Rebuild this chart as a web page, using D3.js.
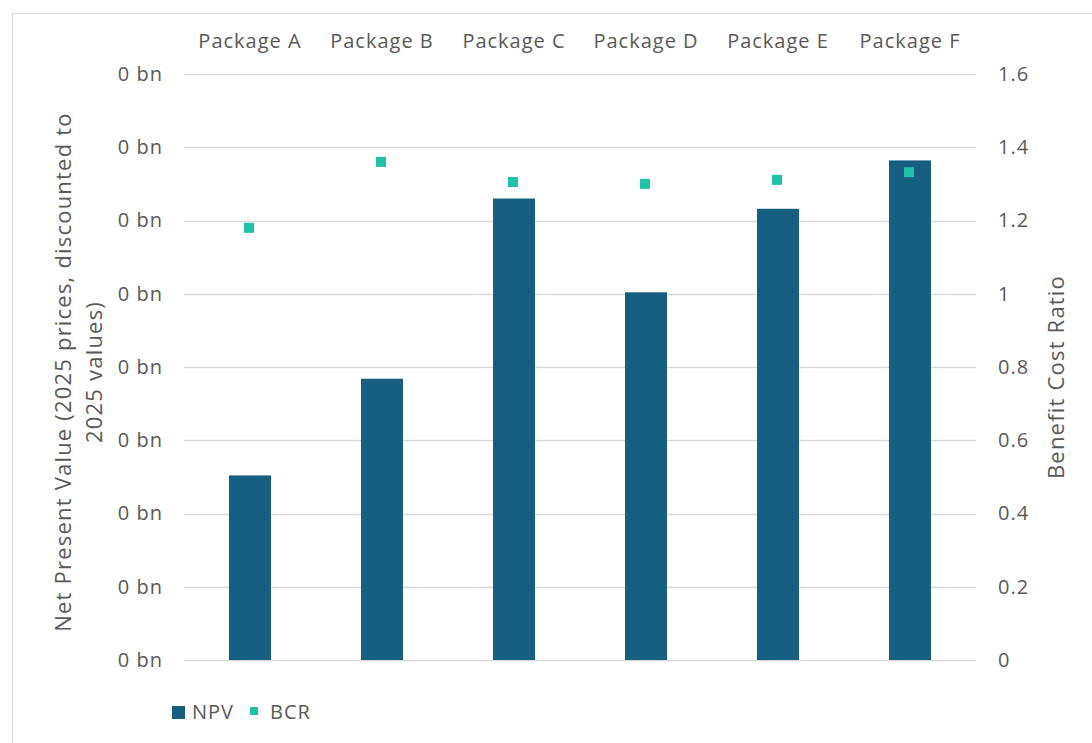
<!DOCTYPE html>
<html>
<head>
<meta charset="utf-8">
<script src="https://cdn.jsdelivr.net/npm/d3@7/dist/d3.min.js"></script>
<style>
  html, body { margin: 0; padding: 0; background: #fff; }
  svg { display: block; }
  text { font-family: "Open Sans", "Noto Sans", sans-serif; fill: #595959; }
</style>
</head>
<body>
<svg id="chart" width="1092" height="743"></svg>
<script>
// Packages compared
const packages = ["Package A", "Package B", "Package C", "Package D", "Package E", "Package F"];
// Net present value, £bn (2025 prices, discounted to 2025 values)
const npv = [0.126, 0.192, 0.315, 0.251, 0.308, 0.341];
// Benefit cost ratio
const bcr = [1.18, 1.36, 1.305, 1.30, 1.311, 1.332];
// Axis ticks
const npvTicks = [0, 0.05, 0.10, 0.15, 0.20, 0.25, 0.30, 0.35, 0.40];
const bcrTicks = [0, 0.2, 0.4, 0.6, 0.8, 1.0, 1.2, 1.4, 1.6];

const svg = d3.select("#chart");
const W = 1092, H = 743;
const plot = { left: 184, right: 976, top: 74, bottom: 660 };
const labelFont = "20px", labelSpacing = "1px";
const titleFont = "22px", titleSpacing = "1.2px";

// Chart frame
svg.append("rect")
  .attr("x", 12.5).attr("y", 13.5)
  .attr("width", W).attr("height", H)
  .attr("fill", "#fff").attr("stroke", "#d9d9d9").attr("stroke-width", 1);

const x = d3.scaleBand().domain(packages).range([plot.left, plot.right]).paddingInner(0).paddingOuter(0);
const yL = d3.scaleLinear().domain([0, 0.4]).range([plot.bottom, plot.top]);
const yR = d3.scaleLinear().domain([0, 1.6]).range([plot.bottom, plot.top]);

// Gridlines
svg.append("g").selectAll("line").data(bcrTicks).join("line")
  .attr("x1", plot.left).attr("x2", plot.right)
  .attr("y1", d => Math.round(yR(d)) + 0.5).attr("y2", d => Math.round(yR(d)) + 0.5)
  .attr("stroke", "#d9d9d9").attr("stroke-width", 1.3);

function styleLabels(g) {
  g.select(".domain").remove();
  g.selectAll("text")
    .style("font-size", labelFont)
    .style("letter-spacing", labelSpacing)
    .attr("fill", "#595959");
}

// Left axis
const leftAxis = d3.axisLeft(yL).tickValues(npvTicks)
  .tickFormat(d => Math.round(d) + " bn").tickSize(0).tickPadding(21);
svg.append("g").attr("transform", `translate(${plot.left},0)`).call(leftAxis).call(styleLabels);

// Right axis
const rightAxis = d3.axisRight(yR).tickValues(bcrTicks)
  .tickFormat(d3.format("~g")).tickSize(0).tickPadding(22);
svg.append("g").attr("transform", `translate(${plot.right},0)`).call(rightAxis).call(styleLabels);

// Category labels along the top
const topAxis = d3.axisTop(x).tickSize(0).tickPadding(0);
const gT = svg.append("g").attr("transform", "translate(0,48)").call(topAxis).call(styleLabels);
gT.selectAll("text").attr("dy", 0);

// NPV bars
const barW = 42;
svg.append("g").selectAll("rect").data(npv).join("rect")
  .attr("x", (d, i) => x(packages[i]) + x.bandwidth() / 2 - barW / 2)
  .attr("width", barW)
  .attr("y", d => yL(d))
  .attr("height", d => yL(0) - yL(d))
  .attr("fill", "#175f80");

// BCR markers
const mk = 10;
svg.append("g").selectAll("rect").data(bcr).join("rect")
  .attr("x", (d, i) => x(packages[i]) + x.bandwidth() / 2 - mk / 2 - 1)
  .attr("y", d => yR(d) - mk / 2)
  .attr("width", mk).attr("height", mk)
  .attr("fill", "#1fc2a8");

// Axis titles
function title(tx, ty, str) {
  svg.append("text")
    .attr("transform", `translate(${tx},${ty}) rotate(-90)`)
    .attr("text-anchor", "middle")
    .style("font-size", titleFont)
    .style("letter-spacing", titleSpacing)
    .text(str);
}
title(71, 372, "Net Present Value (2025 prices, discounted to");
title(102, 372, "2025 values)");
title(1064, 377, "Benefit Cost Ratio");

// Legend
const lg = svg.append("g");
lg.append("rect").attr("x", 172).attr("y", 706).attr("width", 13).attr("height", 13).attr("fill", "#175f80");
lg.append("text").attr("x", 192).attr("y", 719).style("font-size", labelFont).style("letter-spacing", labelSpacing).text("NPV");
lg.append("rect").attr("x", 250).attr("y", 707).attr("width", 8).attr("height", 8).attr("fill", "#1fc2a8");
lg.append("text").attr("x", 270).attr("y", 719).style("font-size", labelFont).style("letter-spacing", labelSpacing).text("BCR");
</script>
</body>
</html>
